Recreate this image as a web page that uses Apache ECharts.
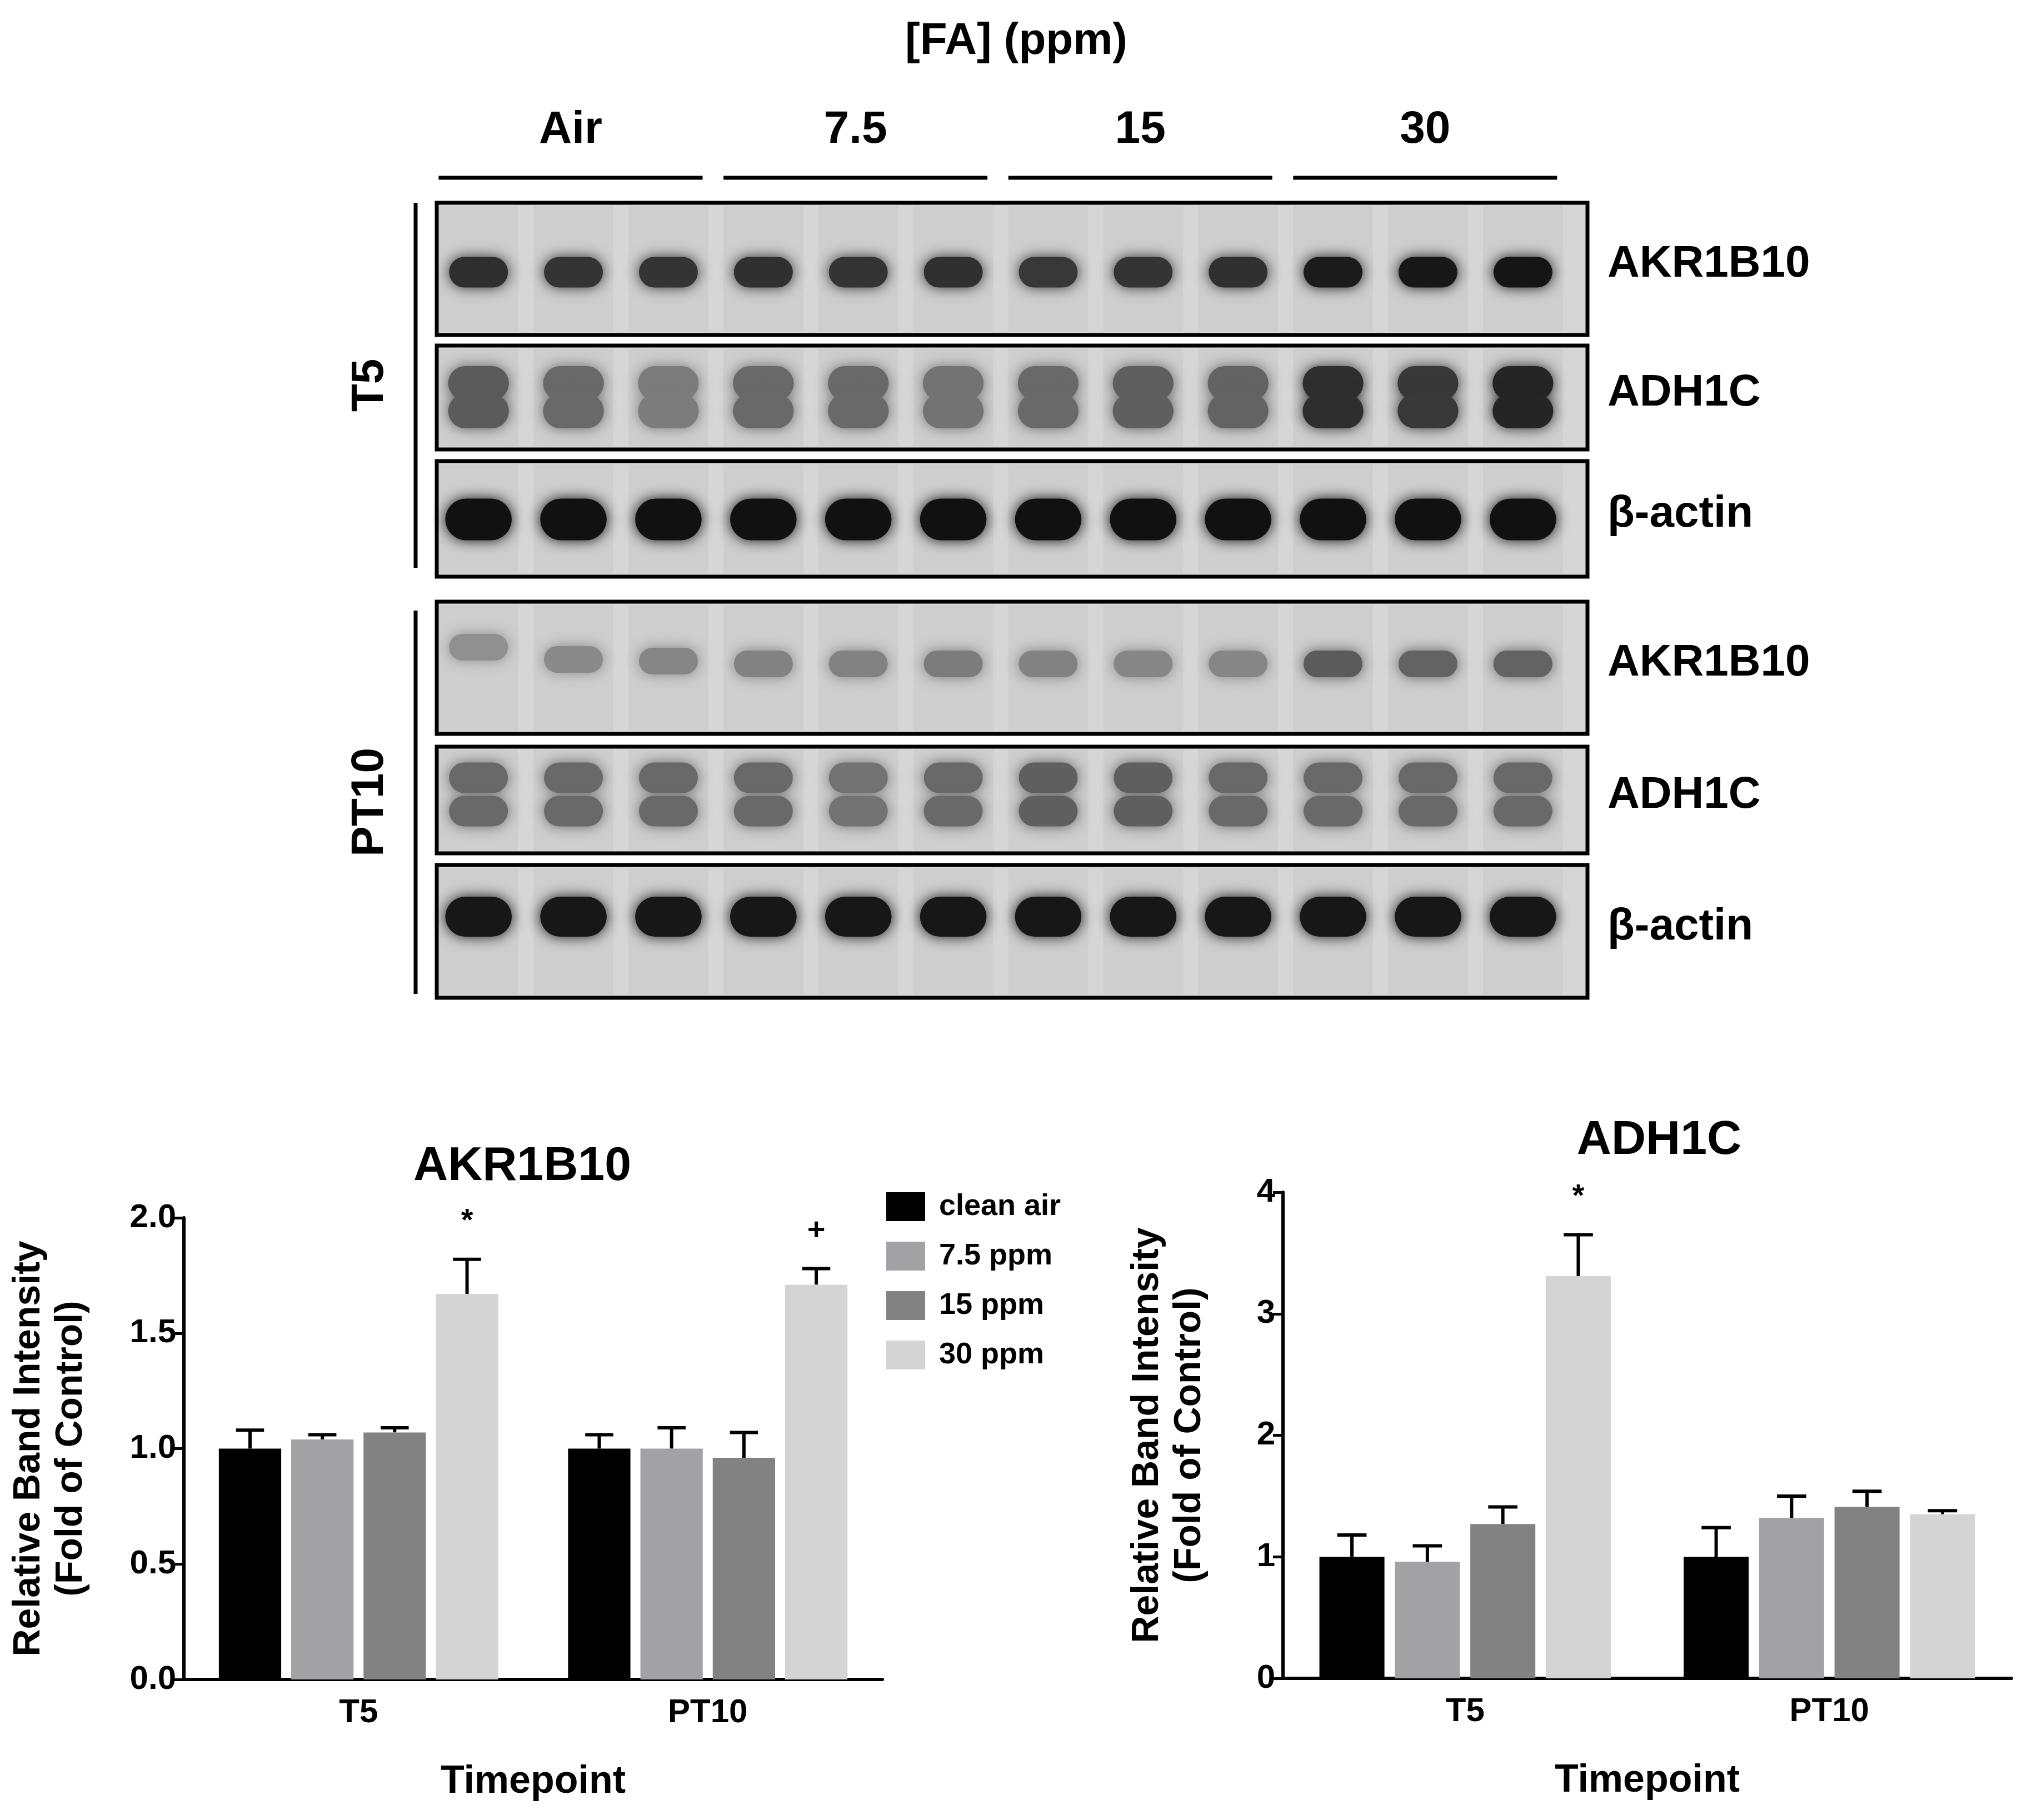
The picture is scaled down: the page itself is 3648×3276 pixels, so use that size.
<!DOCTYPE html>
<html><head><meta charset="utf-8">
<script src="https://cdn.jsdelivr.net/npm/echarts@6/dist/echarts.min.js"></script>
<style>html,body{margin:0;background:#fff}#c{width:3648px;height:3276px}</style>
</head><body><div id="c"></div>
<script>
// ---------- data ----------
const groups = ['Air', '7.5', '15', '30'];
const timepoints = ['T5', 'PT10'];
const seriesNames = ['clean air', '7.5 ppm', '15 ppm', '30 ppm'];
// bar means [series][timepoint]
const akrMean = [[1.00, 1.00], [1.04, 1.00], [1.07, 0.96], [1.67, 1.71]];
const akrTop  = [[1.08, 1.06], [1.06, 1.09], [1.09, 1.07], [1.82, 1.78]];
const adhMean = [[1.00, 1.00], [0.96, 1.32], [1.27, 1.41], [3.31, 1.35]];
const adhTop  = [[1.18, 1.24], [1.09, 1.50], [1.41, 1.54], [3.65, 1.38]];
const akrMarks = [['', ''], ['', ''], ['', ''], ['*', '+']];
const adhMarks = [['', ''], ['', ''], ['', ''], ['*', '']];
// blot band darkness per lane (12 lanes), per panel
const panelLabels = ['AKR1B10', 'ADH1C', 'β-actin', 'AKR1B10', 'ADH1C', 'β-actin'];
const bandAkrT5  = [0.85,0.82,0.82,0.84,0.82,0.84,0.80,0.82,0.84,0.95,0.97,0.98];
const bandAdhT5  = [0.62,0.55,0.45,0.55,0.55,0.50,0.55,0.60,0.58,0.85,0.80,0.90];
const bandActT5  = [1,1,1,1,1,1,1,1,1,1,1,1];
const bandAkrPT  = [0.35,0.38,0.40,0.42,0.42,0.45,0.42,0.40,0.40,0.62,0.58,0.58];
const bandAdhPT  = [0.55,0.55,0.55,0.55,0.50,0.55,0.60,0.60,0.55,0.55,0.55,0.55];
const bandActPT  = [0.97,0.97,0.97,0.97,0.97,0.97,0.97,0.97,0.97,0.97,0.97,0.97];

// ---------- layout ----------
const colors = ['#000000', '#a2a2a6', '#828282', '#d4d4d4'];
const F = 'Liberation Sans, Arial, sans-serif';
const CAT_GAP = 0.20, BAR_GAP = 0.16;
const panelY = [[365,603],[622,809],[830,1038],[1083,1321],[1344,1536],[1557,1796]];
const bandDefs = [
  {d: bandAkrT5, ys: [490], w: 0.62, h: 55},
  {d: bandAdhT5, ys: [690, 740], w: 0.64, h: 62},
  {d: bandActT5, ys: [935], w: 0.7, h: 75},
  {d: bandAkrPT, ys: [1195], w: 0.62, h: 48},
  {d: bandAdhPT, ys: [1400, 1460], w: 0.62, h: 55},
  {d: bandActPT, ys: [1650], w: 0.7, h: 72}
];
const laneShiftAir = [-30, -8, -5];

function gray(v){ const g = Math.round(212 - v*195); return 'rgb('+g+','+g+','+g+')'; }

const bands = [];
bandDefs.forEach((b, p) => b.ys.forEach(y => b.d.forEach((v, i) => {
  let yy = y; if (p === 3 && i < 3) yy += laneShiftAir[i];
  bands.push([i + 1, yy, v, b.w, b.h]);
})));

const c = echarts.init(document.getElementById('c'));

function errSeries(gi, tops, marks, means) {
  const data = [];
  tops.forEach((t, s) => t.forEach((v, k) => data.push([k, v, s, means[s][k], marks[s][k]])));
  return {
    type: 'custom', xAxisIndex: gi, yAxisIndex: gi, z: 1,
    data,
    renderItem(params, api) {
      const k = api.value(0), s = api.value(2);
      const band = api.size([1, 0])[0];
      const groupW = band * (1 - CAT_GAP);
      const barW = groupW / (4 + 3 * BAR_GAP);
      const cx0 = api.coord([k, 0])[0];
      const cx = cx0 - groupW / 2 + s * barW * (1 + BAR_GAP) + barW / 2;
      const yt = api.coord([k, api.value(1)])[1];
      const ym = api.coord([k, api.value(3)])[1];
      const cap = barW * 0.45;
      const ch = [
        {type: 'line', shape: {x1: cx, y1: ym, x2: cx, y2: yt}, style: {stroke: '#000', lineWidth: 6}},
        {type: 'line', shape: {x1: cx - cap/2, y1: yt, x2: cx + cap/2, y2: yt}, style: {stroke: '#000', lineWidth: 6}}
      ];
      const m = data[params.dataIndex][4];
      if (m) ch.push({type: 'text', style: {text: m, x: cx, y: yt - 40, align: 'center', verticalAlign: 'bottom', font: 'bold 56px ' + F, fill: '#000'}});
      return {type: 'group', children: ch};
    }
  };
}

function barSeries(gi, means) {
  return means.map((m, s) => ({
    name: seriesNames[s], type: 'bar', xAxisIndex: gi, yAxisIndex: gi,
    data: m, barGap: (BAR_GAP * 100) + '%', barCategoryGap: (CAT_GAP * 100) + '%', z: 2,
    itemStyle: {color: colors[s]}
  }));
}

const axisLbl = {color: '#000', fontFamily: F, fontWeight: 'bold', fontSize: 60};
function yAx(gi, max, interval, fmt, gap) {
  return {type: 'value', gridIndex: gi, min: 0, max, interval,
    name: 'Relative Band Intensity\n(Fold of Control)', nameLocation: 'middle', nameGap: gap,
    nameTextStyle: {color: '#000', fontFamily: F, fontWeight: 'bold', fontSize: 68, lineHeight: 76},
    axisLine: {show: true, lineStyle: {color: '#000', width: 6}},
    axisTick: {show: true, length: 18, lineStyle: {color: '#000', width: 5}},
    splitLine: {show: false},
    axisLabel: Object.assign({}, axisLbl, {formatter: fmt, margin: 14})};
}
function xAx(gi) {
  return {type: 'category', gridIndex: gi, data: timepoints,
    name: 'Timepoint', nameLocation: 'middle', nameGap: 150,
    nameTextStyle: {color: '#000', fontFamily: F, fontWeight: 'bold', fontSize: 70},
    axisLine: {lineStyle: {color: '#000', width: 6}},
    axisTick: {alignWithLabel: true, length: 18, lineStyle: {color: '#000', width: 5}},
    axisLabel: Object.assign({}, axisLbl, {margin: 30})};
}

const option = {
  backgroundColor: '#fff',
  animation: false,
  title: [
    {text: 'AKR1B10', left: 935, top: 2052, textAlign: 'center', textStyle: {fontFamily: F, fontWeight: 'bold', fontSize: 86, color: '#000'}},
    {text: 'ADH1C', left: 2981, top: 2005, textAlign: 'center', textStyle: {fontFamily: F, fontWeight: 'bold', fontSize: 86, color: '#000'}},
    {text: '[FA] (ppm)', left: 1824, top: 30, textAlign: 'center', textStyle: {fontFamily: F, fontWeight: 'bold', fontSize: 80, color: '#000'}}
  ],
  legend: {
    data: seriesNames, left: 1590, top: 2140, orient: 'vertical', itemWidth: 70, itemHeight: 52, itemGap: 35,
    icon: 'rect', textStyle: {fontFamily: F, fontWeight: 'bold', fontSize: 54, color: '#000', padding: [0, 0, 0, 20]}
  },
  grid: [
    {left: 331, top: 2192, width: 1257, height: 831},
    {left: 2309, top: 2146, width: 1311, height: 875},
    {left: 786, top: 0, width: 2071, height: 3276}
  ],
  xAxis: [xAx(0), xAx(1),
    {type: 'value', gridIndex: 2, min: 0.56, max: 12.68, show: false}],
  yAxis: [yAx(0, 2, 0.5, v => v.toFixed(1), 165), yAx(1, 4, 1, v => String(v), 130),
    {type: 'value', gridIndex: 2, min: 0, max: 3276, inverse: true, show: false}],
  series: [
    ...barSeries(0, akrMean), errSeries(0, akrTop, akrMarks, akrMean),
    ...barSeries(1, adhMean), errSeries(1, adhTop, adhMarks, adhMean),
    // blot panels
    {type: 'custom', xAxisIndex: 2, yAxisIndex: 2, z: 1, data: panelY.map((p, i) => [i, p[0], p[1]]),
      renderItem(params, api) {
        const a = api.coord([0.56, api.value(1)]), b = api.coord([12.68, api.value(2)]);
        const lanes = [];
        for (let l = 1; l <= 12; l++) {
          const l0 = api.coord([l - 0.42, 0])[0], l1 = api.coord([l + 0.42, 0])[0];
          lanes.push({type: 'rect', shape: {x: l0, y: a[1] + 6, width: l1 - l0, height: b[1] - a[1] - 12}, style: {fill: 'rgba(110,110,110,0.07)'}});
        }
        return {type: 'group', children: [
          {type: 'rect', shape: {x: a[0], y: a[1], width: b[0] - a[0], height: b[1] - a[1]}, style: {fill: '#d6d6d6', stroke: '#000', lineWidth: 7}},
          ...lanes,
          {type: 'text', style: {text: panelLabels[params.dataIndex], x: b[0] + 36, y: (a[1] + b[1]) / 2 - 8, verticalAlign: 'middle', font: 'bold 80px ' + F, fill: '#000'}}
        ]};
      }},
    // bands
    {type: 'custom', xAxisIndex: 2, yAxisIndex: 2, z: 3, data: bands,
      renderItem(params, api) {
        const p = api.coord([api.value(0), api.value(1)]);
        const w = api.size([api.value(3), 0])[0], h = api.value(4);
        const col = gray(api.value(2));
        return {type: 'rect', shape: {x: p[0] - w / 2, y: p[1] - h / 2, width: w, height: h, r: h / 2},
          style: {fill: col, shadowBlur: 24, shadowColor: col}};
      }},
    // group lines and labels
    {type: 'custom', xAxisIndex: 2, yAxisIndex: 2, z: 3, data: groups.map((g, i) => [i]),
      renderItem(params, api) {
        const g = api.value(0);
        const a = api.coord([3 * g + 1 - 0.42, 320]), b = api.coord([3 * g + 3 + 0.36, 320]);
        return {type: 'group', children: [
          {type: 'line', shape: {x1: a[0], y1: a[1], x2: b[0], y2: b[1]}, style: {stroke: '#000', lineWidth: 7}},
          {type: 'text', style: {text: groups[g], x: (a[0] + b[0]) / 2, y: 234, align: 'center', verticalAlign: 'middle', font: 'bold 82px ' + F, fill: '#000'}}
        ]};
      }},
    // side timepoint brackets
    {type: 'custom', xAxisIndex: 2, yAxisIndex: 2, z: 3, data: [[0, 365, 1022], [1, 1099, 1789]],
      renderItem(params, api) {
        const t = api.coord([0.56, api.value(1)]), bt = api.coord([0.56, api.value(2)]);
        const x = t[0] - 38;
        return {type: 'group', children: [
          {type: 'line', shape: {x1: x, y1: t[1], x2: x, y2: bt[1]}, style: {stroke: '#000', lineWidth: 7}},
          {type: 'text', rotation: Math.PI / 2, x: x - 82, y: (t[1] + bt[1]) / 2,
            style: {text: timepoints[params.dataIndex], x: 0, y: 0, align: 'center', verticalAlign: 'middle', font: 'bold 82px ' + F, fill: '#000'}}
        ]};
      }}
  ]
};
c.setOption(option);
</script></body></html>
